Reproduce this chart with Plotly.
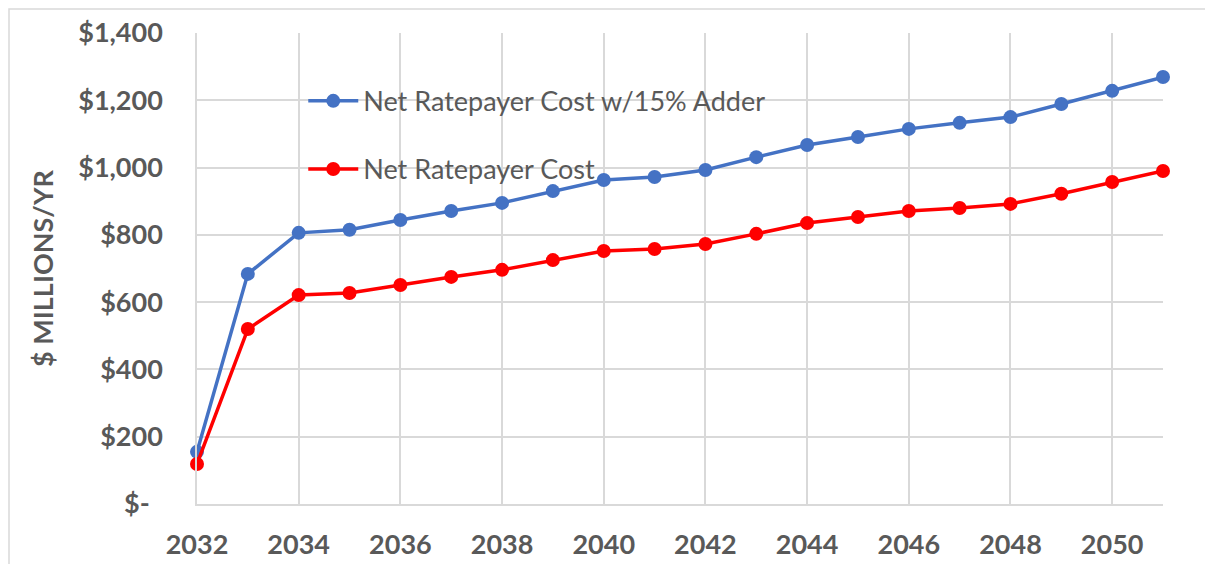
import plotly.graph_objects as go

years = list(range(2032, 2052))
cost_adder = [155, 684, 806, 815, 844, 871, 895, 930, 963, 972,
              993, 1031, 1067, 1091, 1115, 1133, 1150, 1189, 1228, 1269]
cost_net = [119, 520, 621, 627, 651, 675, 696, 725, 752, 758,
            773, 803, 835, 853, 871, 880, 892, 922, 957, 990]

y_tickvals = [0, 200, 400, 600, 800, 1000, 1200, 1400]
y_ticktext = ["$-\u00a0\u00a0", "$200", "$400", "$600", "$800",
              "$1,000", "$1,200", "$1,400"]

grey = "#595959"
font_name = "Lato, Open Sans, sans-serif"
bold_font = dict(size=27, color=grey, family=font_name, weight="bold")

fig = go.Figure()
fig.add_trace(go.Scatter(
    x=years, y=cost_adder, name="Net Ratepayer Cost w/15% Adder", legendgroup="a",
    mode="lines+markers", cliponaxis=False,
    line=dict(color="#4472C4", width=3.5), marker=dict(size=14, color="#4472C4"),
))
fig.add_trace(go.Scatter(
    x=years, y=cost_net, name="Net Ratepayer Cost", legendgroup="b",
    mode="lines+markers", cliponaxis=False,
    line=dict(color="#FF0000", width=3.5), marker=dict(size=14, color="#FF0000"),
))

# light border along the top and left edge of the figure
fig.add_shape(type="rect", xref="paper", yref="paper",
              x0=-188 / 966, x1=1.2, y0=-0.3, y1=1 + 24 / 471,
              line=dict(color="#D9D9D9", width=1.5), layer="below")

fig.update_layout(
    width=1205, height=556,
    margin=dict(l=189, r=50, t=25, b=60),
    paper_bgcolor="white", plot_bgcolor="white",
    font=dict(family=font_name, color=grey),
    showlegend=True,
    legend=dict(x=0.110, y=0.907, xanchor="left", yanchor="top",
                bgcolor="rgba(0,0,0,0)", font=dict(size=27, color=grey),
                tracegroupgap=30, itemwidth=50),
    xaxis=dict(range=[2032, 2051], tickvals=list(range(2032, 2051, 2)),
               showgrid=True, gridcolor="#D9D9D9", gridwidth=1.5,
               showline=True, linecolor="#D9D9D9", linewidth=1.5,
               zeroline=False, ticks="outside", ticklen=16, tickcolor="white",
               automargin=False, tickfont=bold_font),
    yaxis=dict(range=[0, 1400], tickvals=y_tickvals, ticktext=y_ticktext,
               showgrid=True, gridcolor="#D9D9D9", gridwidth=1.5,
               showline=True, linecolor="#D9D9D9", linewidth=1.5,
               zeroline=False, ticks="outside", ticklen=27, tickcolor="white",
               automargin=False, tickfont=bold_font,
               title=dict(text="$ MILLIONS/YR\u00a0\u00a0\u00a0", standoff=17,
                          font=dict(size=27, color=grey, family=font_name, weight="bold"))),
)

fig.write_html("out.html")
